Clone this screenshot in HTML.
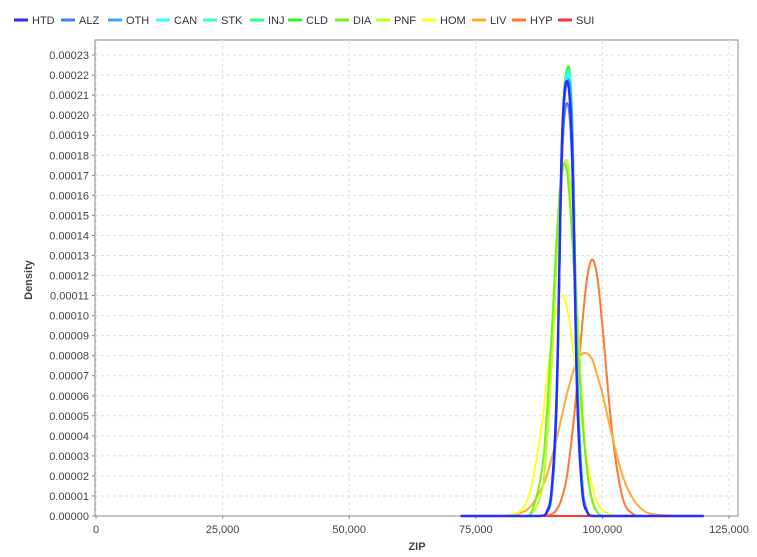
<!DOCTYPE html>
<html><head><meta charset="utf-8"><style>
body{margin:0;background:#fff;}
svg{display:block;font-family:"Liberation Sans",sans-serif;}
</style></head><body>
<svg id="chart" width="757" height="557"></svg>
<script>
const zipGrid=[72,80,84,86,88,89,90,91,92,93,94,95,96,97,98,99,100,102,104,106,108,110,115,120];
const seriesNames=["HTD","ALZ","OTH","CAN","STK","INJ","CLD","DIA","PNF","HOM","LIV","HYP","SUI"];
const seriesColors=["#2a2aff","#3d7dff","#33aaff","#33ffff","#33ffcc","#33ff77","#33ee22","#77ee22","#bbff22","#ffff22","#ffaa33","#ff7733","#ff3333"];
const HTD=[0,0,0,0,0.01,0.2,1.4,6.4,18.6,21.7,18.4,6.2,1.3,0.2,0,0,0,0,0,0,0,0,0,0];
const ALZ=[0,0,0,0,0.01,0.2,1.3,6.0,17.5,20.6,17.6,6.1,1.3,0.2,0,0,0,0,0,0,0,0,0,0];
const OTH=[0,0,0,0,0.01,0.15,1.1,5.6,18.0,21.6,19.8,7.4,1.7,0.25,0,0,0,0,0,0,0,0,0,0];
const CAN=[0,0,0,0,0.01,0.15,1.1,5.7,18.3,22.0,20.1,7.6,1.7,0.25,0,0,0,0,0,0,0,0,0,0];
const STK=[0,0,0,0,0.01,0.15,1.1,5.6,18.2,21.8,19.9,7.5,1.7,0.25,0,0,0,0,0,0,0,0,0,0];
const INJ=[0,0,0,0,0.01,0.15,1.1,5.7,18.4,22.2,20.0,7.7,1.8,0.25,0,0,0,0,0,0,0,0,0,0];
const CLD=[0,0,0,0,0.01,0.15,1.1,5.7,18.5,22.3,20.2,7.8,1.8,0.25,0,0,0,0,0,0,0,0,0,0];
const DIA=[0,0,0,0.2,2.2,5.0,9.2,14.0,17.2,17.2,14.0,9.2,5.0,2.2,0.8,0.2,0,0,0,0,0,0,0,0];
const PNF=[0,0,0,0.1,1.2,3.5,7.6,12.8,16.8,17.7,15.5,10.6,5.6,2.3,0.7,0.2,0,0,0,0,0,0,0,0];
const HOM=[0,0,0.3,1.5,4.5,6.7,8.8,10.4,11.0,10.4,8.8,6.7,4.5,2.7,1.5,0.7,0.3,0.05,0,0,0,0,0,0];
const LIV=[0,0.01,0.17,0.54,1.4,2.0,2.9,3.9,5.0,6.1,7.0,7.8,8.1,8.1,7.8,7.0,6.1,3.9,2.0,0.88,0.3,0.09,0,0];
const HYP=[0,0,0,0,0,0.05,0.1,0.33,0.9,2.0,4.0,6.5,9.5,11.9,12.8,11.9,9.5,4.0,0.9,0.11,0,0,0,0];
const SUI=[0,0,0,0,0,0,0,0,0,0,0,0,0,0,0,0,0,0,0,0,0,0,0,0];
const seriesValues=[HTD,ALZ,OTH,CAN,STK,INJ,CLD,DIA,PNF,HOM,LIV,HYP,SUI];
const xTicks=[0,25000,50000,75000,100000,125000];
const xTickLabels=["0","25,000","50,000","75,000","100,000","125,000"];
const yTickCount=24;

const NS="http://www.w3.org/2000/svg";
const svg=document.getElementById("chart");
const L=95,R=738,T=40,B=516;
function xs(v){return 96+v*0.005064;}
function ys(d){return B-d*20.04;}
function mk(tag,attrs,parent){const e=document.createElementNS(NS,tag);for(const k in attrs)e.setAttribute(k,attrs[k]);(parent||svg).appendChild(e);return e;}

const bg=mk("rect",{x:L,y:T,width:R-L,height:B-T,fill:"#fff",stroke:"#888","stroke-width":1});



for(let i=0;i<yTickCount;i++){
  const y=ys(i);
  const g=mk("line",{x1:L,x2:R,y1:y,y2:y,stroke:"#ddd","stroke-dasharray":"3,3"});
  
  
  mk("line",{x1:L-3,x2:L,y1:y,y2:y,stroke:"#888"});
  const t=mk("text",{x:L-6,y:y+4,"text-anchor":"end","font-size":11,fill:"#444"});
  t.textContent=(i/100000).toFixed(5);
  
  
}
xTicks.forEach((v,i)=>{
  const x=xs(v);
  const g=mk("line",{x1:x,x2:x,y1:T,y2:B,stroke:"#ddd","stroke-dasharray":"3,3"});
  
  
  mk("line",{x1:x,x2:x,y1:B,y2:B+3,stroke:"#888"});
  const t=mk("text",{x:x,y:B+17,"text-anchor":"middle","font-size":11,fill:"#444"});
  t.textContent=xTickLabels[i];
  
  
});
mk("line",{x1:L,x2:R,y1:B,y2:B,stroke:"#888"});

function pathFor(vals){
  const pts=zipGrid.map((z,i)=>[xs(z*1000),vals[i]]);
  let d="M"+pts[0][0]+","+ys(pts[0][1]);
  for(let i=0;i<pts.length-1;i++){
    const p0=pts[Math.max(0,i-1)],p1=pts[i],p2=pts[i+1],p3=pts[Math.min(pts.length-1,i+2)];
    const n=8;
    for(let s=1;s<=n;s++){
      const t=s/n,t2=t*t,t3=t2*t;
      const f=(a,b,c,e)=>0.5*((2*b)+(-a+c)*t+(2*a-5*b+4*c-e)*t2+(-a+3*b-3*c+e)*t3);
      const x=f(p0[0],p1[0],p2[0],p3[0]);
      let v=f(p0[1],p1[1],p2[1],p3[1]);if(v<0)v=0;
      d+=" L"+x.toFixed(2)+","+ys(v).toFixed(2);
    }
  }
  return d;
}
for(let k=seriesNames.length-1;k>=0;k--){
  const p=mk("path",{d:pathFor(seriesValues[k]),fill:"none",stroke:seriesColors[k],"stroke-width":k==0?2.4:2,"stroke-linejoin":"round"});
  
  
}

const yt=mk("text",{x:32,y:280,"text-anchor":"middle","font-size":11,"font-weight":"bold",fill:"#444",transform:"rotate(-90 32 280)"});
yt.textContent="Density";


const xt=mk("text",{x:417,y:550,"text-anchor":"middle","font-size":11,"font-weight":"bold",fill:"#444"});
xt.textContent="ZIP";



const legendX=[14,61,108,156,203,250,288,335,376,422,472,512,558];
seriesNames.forEach((n,i)=>{
  const g=mk("g",{});
  
  
  mk("line",{x1:legendX[i],x2:legendX[i]+14,y1:20,y2:20,stroke:seriesColors[i],"stroke-width":3},g);
  const t=mk("text",{x:legendX[i]+18,y:24,"font-size":11,fill:"#333"},g);
  t.textContent=n;
});
</script>
</body></html>
